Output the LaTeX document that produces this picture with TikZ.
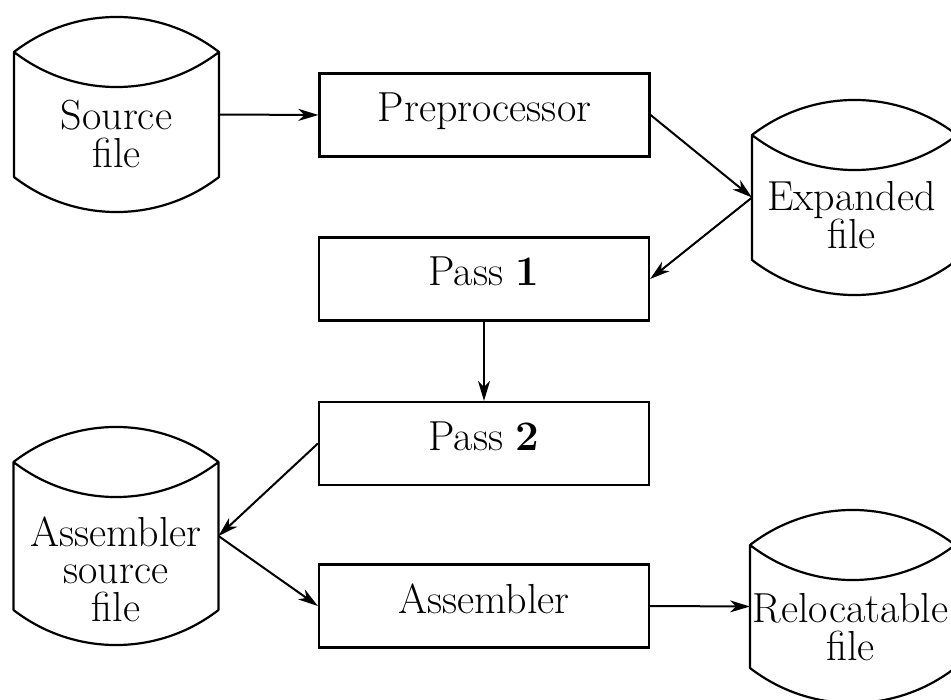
\documentclass[tikz,border=0pt]{standalone}
\usetikzlibrary{arrows.meta}
\newcommand\drumoutline[1]{%
  \draw[drumline] (#1.north west)
    .. controls +(60.4,-46.7) and +(-60.4,-46.7) .. (#1.north east)
    .. controls +(-60.4,46.7) and +(60.4,46.7) .. (#1.north west)
    -- (#1.south west)
    .. controls +(60.4,46.7) and +(-60.4,46.7) .. (#1.south east)
    -- (#1.north east);}
\tikzset{
  bigfont/.style={font=\fontsize{42}{37.5}\selectfont},
  proc/.style={draw, line width=2.2pt, minimum width=330pt, minimum height=83pt,
    inner sep=0pt, text height=27pt, text depth=13pt, bigfont},
  cylbody/.style={minimum width=205pt, inner sep=0pt, outer sep=0pt},
  cyltext/.style={align=center, inner sep=0pt, bigfont},
  drumline/.style={line width=2.2pt, line join=round},
  arr/.style={line width=2pt, -{Stealth[length=20pt,width=12pt,inset=6pt]}}
}
\begin{document}
\begin{tikzpicture}[x=1pt,y=-1pt]
\clip (0,0) rectangle (951,700);
\fill[white] (0,0) rectangle (951,700);

% process boxes
\node[proc] (pre) at (484.5,115) {Preprocessor};
\node[proc] (p1)  at (484,279)   {Pass \textbf{1}};
\node[proc] (p2)  at (484,443.5) {Pass \textbf{2}};
\node[proc] (asm) at (484,606)   {Assembler};

% files (drums)
\node[cylbody, minimum height=125pt,
  label={[cyltext, yshift=-19.5pt]center:Source\\file}] (src) at (116.5,114.5) {};
\node[cylbody, minimum height=125pt,
  label={[cyltext, yshift=-17.5pt, xshift=-3pt]center:Expanded\\file}] (exp) at (854.5,197.5) {};
\node[cylbody, minimum height=148pt,
  label={[cyltext, yshift=-33pt]center:Assembler\\source\\file}] (asrc) at (116,536) {};
\node[cylbody, minimum height=123pt,
  label={[cyltext, yshift=-20.5pt, xshift=-2pt]center:Relocatable\\file}] (rel) at (852.5,606.5) {};

\drumoutline{src}
\drumoutline{exp}
\drumoutline{asrc}
\drumoutline{rel}

% connectors
\draw[arr] (src.east) -- (pre.west);
\draw[arr] (pre.east) -- (exp.west);
\draw[arr] (exp.west) -- (p1.east);
\draw[arr] (p1.south) -- (p2.north);
\draw[arr] (p2.west) -- (asrc.east);
\draw[arr] (asrc.east) -- (asm.west);
\draw[arr] (asm.east) -- (rel.west);
\end{tikzpicture}
\end{document}
